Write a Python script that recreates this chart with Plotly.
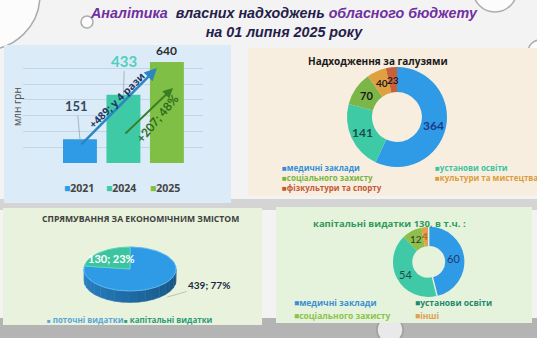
import math
import plotly.graph_objects as go

W, H = 537, 338

# ---------------- data ----------------
years = ["2021", "2024", "2025"]
revenue = [151, 433, 640]
growth_total_label = "+489; у 4 рази"
growth_2025_label = "+207; 48%"

sectors = ["медичні заклади", "установи освіти", "соціального захисту",
           "культури та мистецтва", "фізкультури та спорту"]
sector_values = [364, 141, 70, 40, 23]

econ_labels = ["поточні видатки", "капітальні видатки"]
econ_values = [439, 130]

capital_total = 130
capital_labels = ["медичні заклади", "установи освіти", "соціального захисту", "інші"]
capital_values = [60, 54, 12, 4]

# ---------------- colours ----------------
year_colors = ["#2f9be6", "#3fcaa6", "#7fbf45"]
sector_colors = ["#2f9be6", "#3fcaa6", "#7ab648", "#e0a042", "#c9603a"]
sector_text = ["#1b3a8c", "#17504a", "#1a1a1a", "#1a1a1a", "#1a1a1a"]
sector_legend = ["#2f8fd8", "#3cc4a0", "#79b544", "#dc9c3c", "#c05a36"]
econ_colors = ["#2f9be6", "#3cc4a0"]
capital_colors = ["#2f9be6", "#40c9a6", "#8dbf4a", "#e2a050"]
capital_text = ["#1f3a70", "#1f4a4a", "#333333", "#a85818"]
capital_legend = ["#3d8fd0", "#1f8a6a", "#8bc34a", "#e0a050"]

FONT = "Open Sans"


def fx(p):
    return p / W


def fy(p):
    return 1 - p / H


fig = go.Figure()
shapes = []
ann = []


def label(x, y, text, size, color, family=FONT, xanchor="center", angle=0):
    """Text placed at pixel position (x, y) measured from the top-left corner."""
    ann.append(dict(xref="paper", yref="paper", x=fx(x), y=fy(y), xanchor=xanchor, yanchor="middle",
                    showarrow=False, text=text, textangle=angle,
                    font=dict(family=family, size=size, color=color)))


# ---------------- background ----------------
shapes.append(dict(type="rect", xref="paper", yref="paper", x0=0, x1=1, y0=fy(338), y1=fy(318),
                   fillcolor="#b4b4b4", line_width=0, layer="below"))
shapes.append(dict(type="rect", xref="paper", yref="paper", x0=0, x1=1, y0=fy(210), y1=fy(199),
                   fillcolor="#d4d4d4", line_width=0, layer="below"))
for cx, cy, r in [(-15, -5, 55), (87, 22, 6), (495, -10, 22), (540, 52, 12), (390, 330, 13)]:
    shapes.append(dict(type="circle", xref="paper", yref="paper",
                       x0=fx(cx - r), x1=fx(cx + r), y0=fy(cy + r), y1=fy(cy - r),
                       fillcolor="rgba(255,255,255,0.7)", line=dict(color="rgba(140,140,140,0.7)", width=1.5),
                       layer="below"))
panels = [(4, 45, 231, 203, "#dcebf8"), (248, 48, 537, 196, "#f8eedf"),
          (3, 208, 262, 325, "#e8f2dd"), (276, 207, 532, 323, "#e6f3dc")]
for x0, y0, x1, y1, c in panels:
    shapes.append(dict(type="rect", xref="paper", yref="paper", x0=fx(x0), x1=fx(x1), y0=fy(y1), y1=fy(y0),
                       fillcolor=c, line_width=0, layer="below"))

# ---------------- title ----------------
purple = "#7030a0"
dark = "#24204a"
ann.append(dict(xref="paper", yref="paper", x=fx(284), y=fy(22), xanchor="center", yanchor="middle",
                showarrow=False,
                text=(f"<b><i><span style='color:{purple}'>Аналітика</span>  "
                      f"<span style='color:{dark}'>власних надходжень</span> "
                      f"<span style='color:{purple}'>обласного бюджету</span><br>"
                      f"<span style='color:{dark}'>на 01 липня 2025 року</span></i></b>"),
                font=dict(family="Liberation Sans", size=14.3), align="center"))

# ---------------- bar chart ----------------
fig.add_trace(go.Bar(x=years, y=revenue, marker=dict(color=year_colors, line_width=0),
                     width=0.78, showlegend=False, xaxis="x", yaxis="y"))

fig.update_layout(
    xaxis=dict(domain=[fx(23), fx(203)], type="category", range=[-1.31, 2.83],
               showticklabels=False, showgrid=False, zeroline=False, fixedrange=True),
    yaxis=dict(domain=[fy(163), fy(52.5)], range=[0, 700], dtick=100,
               showticklabels=False, showgrid=True, gridcolor="rgba(170,195,220,0.55)",
               gridwidth=1, zeroline=False),
)

value_styles = [
    dict(size=13, color="#34495e", ax=-3, ay=-33, arrow=True),
    dict(size=15, color="#52cfbc", ax=1, ay=-34, arrow=True),
    dict(size=12, color="#2d2d2d", ax=0, ay=-12, arrow=False),
]
for i, (yr, v) in enumerate(zip(years, revenue)):
    s = value_styles[i]
    ann.append(dict(xref="x", yref="y", x=i, y=v, text=f"<b>{v}</b>",
                    showarrow=s["arrow"], arrowhead=0, arrowwidth=0.8, arrowcolor="#9aa5ad",
                    ax=s["ax"], ay=s["ay"], standoff=0, xanchor="center",
                    yshift=0 if s["arrow"] else 2, yanchor="middle" if s["arrow"] else "bottom",
                    font=dict(family="Lato", size=s["size"], color=s["color"])))

# growth arrows
ann.append(dict(xref="x", yref="y", x=1.77, y=602, axref="x", ayref="y", ax=0, ay=108,
                showarrow=True, arrowhead=2, arrowsize=1, arrowwidth=2.5, arrowcolor="#2e86c1", text=""))
ann.append(dict(xref="x", yref="y", x=2.14, y=475, axref="x", ayref="y", ax=1.01, ay=177,
                showarrow=True, arrowhead=2, arrowsize=1, arrowwidth=2, arrowcolor="#3a7d25", text=""))
label(117, 100, f"<b>{growth_total_label}</b>", 10.5, "#1f3864", angle=-45)
label(157, 118, f"<b>{growth_2025_label}</b>", 12, "#2e6b1e", family="Lato", angle=-50)
label(17, 107, "млн грн", 10, "#505050", angle=-90)

# bar legend
leg_x = [62, 104, 148]
for x, yr, c in zip(leg_x, years, year_colors):
    label(x, 188, f"<span style='color:{c}'>■</span><b>{yr}</b>", 10.5, "#444444", xanchor="left")


# ---------------- ring helpers ----------------
def ring_labels(values, cx, cy, r):
    total = sum(values)
    acc = 0
    out = []
    for v in values:
        mid = (acc + v / 2) / total * 2 * math.pi
        out.append((cx + r * math.sin(mid), cy - r * math.cos(mid)))
        acc += v
    return out


# ---------------- sector donut ----------------
cx1, cy1, R1 = 397, 117, 50
fig.add_trace(go.Pie(values=sector_values, labels=sectors, hole=0.5, sort=False,
                     direction="clockwise", rotation=0, textinfo="none",
                     marker=dict(colors=sector_colors, line=dict(width=0)),
                     domain=dict(x=[fx(cx1 - R1), fx(cx1 + R1)], y=[fy(cy1 + R1), fy(cy1 - R1)]),
                     showlegend=False))
label(378, 61, "<b>Надходження за галузями</b>", 10, "#1a1a1a")
sizes1 = [12, 12, 11, 10, 10]
for (px_, py_), v, c, s in zip(ring_labels(sector_values, cx1, cy1, 37.5), sector_values, sector_text, sizes1):
    label(px_, py_, f"<b>{v}</b>", s, c, family="Lato")
leg1_pos = [(280, 167), (433, 167), (280, 177.5), (433, 177.5), (280, 188)]
for (x, y), lab, c in zip(leg1_pos, sectors, sector_legend):
    label(x, y, f"<b>■{lab}</b>", 8.0, c, xanchor="left")

# ---------------- economic split (3-D style pie) ----------------
k = 0.478     # vertical squash of the top ellipse
depth = 0.25  # thickness of the disc
econ_total = sum(econ_values)


def arc(t0, t1, dy=0.0, n=60):
    pts = []
    for i in range(n + 1):
        t = t0 + (t1 - t0) * i / n
        pts.append((math.sin(t), k * math.cos(t) - dy))
    return pts


def mix(c1, c2, f):
    a = [int(c1[i:i + 2], 16) for i in (1, 3, 5)]
    b = [int(c2[i:i + 2], 16) for i in (1, 3, 5)]
    return "#" + "".join(f"{round(x + (y - x) * f):02x}" for x, y in zip(a, b))


side_dark = {0: ("#15507f", "#2a85c8"), 1: ("#1f8a70", "#2fae8c")}
acc = 0
bounds = []
for v in econ_values:
    t0 = acc / econ_total * 2 * math.pi
    acc += v
    t1 = acc / econ_total * 2 * math.pi
    bounds.append((t0, t1))

# visible side band (front half of the disc)
nseg = 18
for idx, (t0, t1) in enumerate(bounds):
    lo, hi = max(t0, math.pi / 2), min(t1, 3 * math.pi / 2)
    if hi <= lo:
        continue
    for j in range(nseg):
        a0 = lo + (hi - lo) * j / nseg
        a1 = lo + (hi - lo) * (j + 1) / nseg
        top = arc(a0, a1, 0, 4)
        bot = arc(a1, a0, depth, 4)
        pts = top + bot + [top[0]]
        f = ((a0 + a1) / 2 - math.pi / 2) / math.pi
        col = mix(side_dark[idx][0], side_dark[idx][1], f)
        fig.add_trace(go.Scatter(x=[p[0] for p in pts], y=[p[1] for p in pts], mode="lines",
                                 fill="toself", fillcolor=col, line=dict(width=0.5, color=col),
                                 xaxis="x2", yaxis="y2", showlegend=False, hoverinfo="skip"))

for idx, (t0, t1) in enumerate(bounds):
    pts = [(0, 0)] + arc(t0, t1, 0, 80) + [(0, 0)]
    fig.add_trace(go.Scatter(x=[p[0] for p in pts], y=[p[1] for p in pts], mode="lines",
                             fill="toself", fillcolor=econ_colors[idx],
                             line=dict(width=1, color="#5ab8ee" if idx == 0 else "#5fd8b8"),
                             xaxis="x2", yaxis="y2", showlegend=False, name=econ_labels[idx]))

fig.update_layout(
    xaxis2=dict(domain=[fx(60), fx(200)], range=[-1.52, 1.52], visible=False, fixedrange=True),
    yaxis2=dict(domain=[fy(310), fy(240)], range=[-0.891, 0.63], visible=False, fixedrange=True),
)

# labels for the 3-D pie
t0, t1 = bounds[1]
mid = (t0 + t1) / 2
pct = [round(v / econ_total * 100) for v in econ_values]
ann.append(dict(xref="x2", yref="y2", x=0.6 * math.sin(mid), y=0.6 * k * math.cos(mid) + 0.02,
                xanchor="center", yanchor="middle",
                showarrow=False, text=f"<b>{econ_values[1]}; {pct[1]}%</b>",
                font=dict(family="Lato", size=11, color="white")))
t0, t1 = bounds[0]
mid = (t0 + t1) / 2
ann.append(dict(xref="x2", yref="y2", x=math.sin(mid) + 0.15, y=k * math.cos(mid) - depth,
                showarrow=True, arrowhead=0, arrowwidth=0.8, arrowcolor="#b0b8b0", ax=42, ay=-12,
                standoff=0, text=f"<b>{econ_values[0]}; {pct[0]}%</b>",
                font=dict(family="Lato", size=10, color="#1a2a40")))

label(140, 219, "<b>СПРЯМУВАННЯ ЗА ЕКОНОМІЧНИМ ЗМІСТОМ</b>", 8.6, "#404040")
for (x, lab, c) in [(45, econ_labels[0], "#5aa6d8"), (122, econ_labels[1], "#2e9a78")]:
    label(x, 319, f"<b><span style='font-size:6px'>■</span> {lab}</b>", 8, c, xanchor="left")

# ---------------- capital expenditure donut ----------------
cx2, cy2, R2 = 428, 262, 35
pull = [0.04, 0, 0, 0]
Rd = R2 * (1 + max(pull))
fig.add_trace(go.Pie(values=capital_values, labels=capital_labels, hole=0.45, sort=False,
                     direction="clockwise", rotation=0, textinfo="none", pull=pull,
                     marker=dict(colors=capital_colors, line=dict(width=0)),
                     domain=dict(x=[fx(cx2 - Rd), fx(cx2 + Rd)], y=[fy(cy2 + Rd), fy(cy2 - Rd)]),
                     showlegend=False))
label(389, 223, f"<b>капітальні видатки {capital_total}, в т.ч. :</b>", 9.5, "#2f9a5a")
sizes2 = [11, 11, 10, 10]
for (px_, py_), v, c, s in zip(ring_labels(capital_values, cx2, cy2, 26), capital_values, capital_text, sizes2):
    label(px_, py_, f"{v}", s, c, family="Lato")
leg2_pos = [(292, 302), (413, 302), (292, 315), (413, 315)]
for (x, y), lab, c in zip(leg2_pos, capital_labels, capital_legend):
    label(x, y, f"<b>■{lab}</b>", 8.5, c, xanchor="left")

fig.update_layout(
    width=W, height=H, margin=dict(l=0, r=0, t=0, b=0),
    paper_bgcolor="#f3f3f3", plot_bgcolor="rgba(0,0,0,0)",
    shapes=shapes, annotations=ann, showlegend=False,
    font=dict(family=FONT),
)

fig.write_html("out.html")
